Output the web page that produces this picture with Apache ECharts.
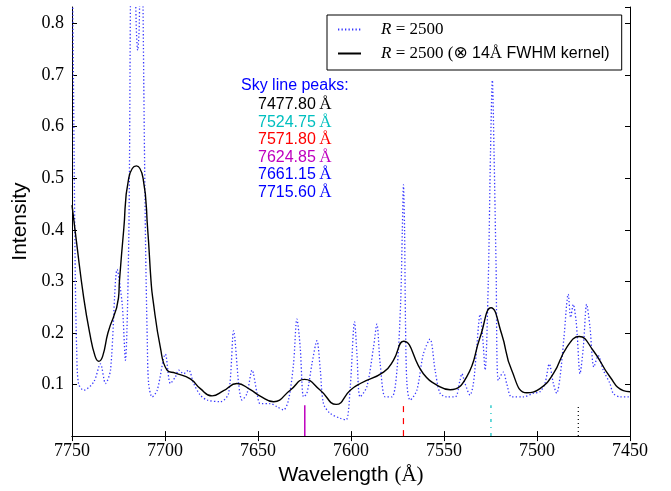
<!DOCTYPE html>
<html>
<head>
<meta charset="utf-8">
<script src="https://cdn.jsdelivr.net/npm/echarts@6/dist/echarts.min.js"></script>
<style>html,body{margin:0;padding:0;background:#fff}#c{width:671px;height:491px}</style>
</head>
<body>
<div id="c"></div>
<script>
// ---- data (wavelength in Å, intensity) ----
const xTicks = [7750, 7700, 7650, 7600, 7550, 7500, 7450];
const yTicks = [0.1, 0.2, 0.3, 0.4, 0.5, 0.6, 0.7, 0.8];

const highRes = [
  [7750,1.0],[7749.0,0.6],[7748.2,0.30],[7747.5,0.17],[7746.5,0.102],[7743.7,0.089],[7738.3,0.105],
  [7734.7,0.140],[7732.0,0.102],[7729.3,0.128],[7725.7,0.323],[7723.0,0.255],[7721.3,0.147],
  [7719.5,0.378],[7718.6,0.83],[7717.6,1.3],[7716.4,1.0],[7715.5,0.80],[7714.7,0.748],[7713.8,0.80],
  [7712.7,1.2],[7711.8,0.83],[7710.5,0.384],[7709.5,0.18],[7708.8,0.102],[7706.9,0.076],[7704.2,0.089],
  [7699.8,0.159],[7697.1,0.102],[7694.4,0.115],[7692.6,0.128],[7690.0,0.121],[7687.3,0.128],
  [7684.6,0.102],[7681.0,0.0795],[7677.4,0.070],[7670.2,0.0667],[7665.8,0.083],[7663.1,0.204],
  [7660.4,0.102],[7658.6,0.070],[7655.9,0.083],[7653.2,0.128],[7650.5,0.083],[7648.8,0.063],
  [7643.4,0.063],[7639.8,0.057],[7636.3,0.0507],[7633.6,0.070],[7630.9,0.140],[7629.1,0.227],
  [7627.3,0.172],[7625.5,0.076],[7623.7,0.083],[7621.0,0.140],[7618.3,0.185],[7616.5,0.128],
  [7614.8,0.063],[7611.2,0.044],[7605.8,0.0346],[7602.6,0.0315],[7600.4,0.0955],[7598.1,0.222],
  [7596.8,0.159],[7595.1,0.076],[7591.5,0.0955],[7587.9,0.172],[7586.1,0.217],[7584.3,0.140],
  [7581.6,0.076],[7578.0,0.076],[7575.3,0.128],[7573.3,0.26],[7572.4,0.40],[7571.8,0.487],
  [7571.2,0.40],[7570.7,0.22],[7569.9,0.10],[7568.2,0.070],[7564.6,0.089],[7561.1,0.159],
  [7557.5,0.188],[7554.8,0.128],[7552.1,0.083],[7548.5,0.076],[7544.0,0.076],[7541.4,0.108],
  [7540.4,0.121],[7538.7,0.102],[7536.0,0.0795],[7534.2,0.102],[7532.4,0.172],[7530.6,0.236],
  [7529.2,0.1915],[7527.9,0.128],[7526.2,0.30],[7525.0,0.55],[7524.0,0.69],[7523.1,0.55],
  [7522.0,0.33],[7520.8,0.108],[7518.1,0.124],[7516.3,0.102],[7513.6,0.076],[7507.4,0.076],
  [7502.0,0.083],[7498.4,0.086],[7495.7,0.102],[7493.4,0.140],[7491.2,0.102],[7489.4,0.083],
  [7487.6,0.115],[7485.5,0.1915],[7483.2,0.275],[7481.9,0.230],[7480.5,0.2555],[7479.0,0.2236],
  [7478.3,0.1915],[7476.9,0.121],[7475.1,0.172],[7473.3,0.2555],[7471.5,0.2107],[7469.4,0.134],
  [7467.1,0.156],[7464.4,0.128],[7460.8,0.102],[7459.0,0.083],[7455.4,0.076],[7450.9,0.076],[7450,0.076]
];

const convolved = [
  [7750,0.448],[7747.6,0.377],[7743.7,0.268],[7740.5,0.200],[7737.6,0.155],[7735.6,0.145],
  [7733.5,0.155],[7730.7,0.200],[7725.0,0.268],[7724.5,0.300],[7722.2,0.400],[7719.5,0.500],
  [7715.4,0.524],[7711.8,0.500],[7709.3,0.400],[7707.5,0.300],[7706.6,0.268],[7702.5,0.172],
  [7698.9,0.128],[7694.4,0.122],[7686.4,0.111],[7681.0,0.092],[7674.7,0.078],[7668.5,0.088],
  [7661.3,0.102],[7654.1,0.090],[7648.8,0.0776],[7641.6,0.0667],[7632.7,0.089],[7625.0,0.110],
  [7616.5,0.089],[7608.0,0.0615],[7600.4,0.089],[7595.0,0.102],[7582.5,0.124],[7577.2,0.147],
  [7571.8,0.184],[7561.1,0.121],[7552.1,0.0955],[7546.7,0.090],[7537.8,0.115],[7530.6,0.1915],
  [7524.7,0.249],[7519.0,0.198],[7513.6,0.1275],[7505.5,0.084],[7498.4,0.092],[7491.2,0.121],
  [7484.0,0.172],[7477.3,0.193],[7469.8,0.166],[7460.8,0.115],[7453.6,0.088],[7450,0.086]
];

const peakWavelengths = [7477.80, 7524.75, 7571.80, 7624.85, 7661.15, 7715.60];
const peakColors = ['#000000', '#00bfbf', '#ff0000', '#bf00bf', '#0000ff', '#0000ff'];
const markerTop = 0.06;
const markerStyles = [[1, 3], [3, 5, 1, 5], [6, 6], 'solid'];

// ---- chart ----
const chart = echarts.init(document.getElementById('c'), null, {renderer: 'canvas'});
const serif = '"Liberation Serif", "DejaVu Serif", serif';
const sans = '"Liberation Sans", Arial, sans-serif';

const markerSeries = [0, 1, 2, 3].map(i => ({
  type: 'line', name: 'm' + i, symbol: 'none', silent: true, legendHoverLink: false,
  data: [[peakWavelengths[i], 0], [peakWavelengths[i], markerTop]],
  lineStyle: {color: peakColors[i], width: i === 3 ? 1.5 : 1.2, type: markerStyles[i]},
  z: 1
}));

const graphics = [{
  type: 'text', x: 241, y: 86,
  style: {text: 'Sky line peaks:', fill: '#0000ff', font: '16px ' + sans, verticalAlign: 'middle'}
}];
peakWavelengths.forEach((w, i) => {
  graphics.push({
    type: 'text', x: 258, y: 105 + i * 17.5,
    style: {
      text: '{n|' + w.toFixed(2) + '} {a|Å}',
      fill: peakColors[i], verticalAlign: 'middle',
      rich: {
        n: {fontFamily: sans, fontSize: 16, fill: peakColors[i]},
        a: {fontFamily: serif, fontSize: 17, fill: peakColors[i]}
      }
    }
  });
});

const axisCommonX = {
  type: 'value', min: 7450, max: 7750, interval: 50, inverse: true,
  splitLine: {show: false},
  axisLine: {show: true, lineStyle: {color: '#000', width: 1}},
  axisTick: {show: true, inside: true, length: 5, lineStyle: {color: '#000'}}
};
const axisCommonY = {
  type: 'value', min: 0, max: 0.832, interval: 0.1,
  splitLine: {show: false},
  axisLine: {show: true, lineStyle: {color: '#000', width: 1}},
  axisTick: {show: true, inside: true, length: 5, lineStyle: {color: '#000'}}
};

chart.setOption({
  animation: false,
  backgroundColor: '#fff',
  grid: {left: 72, right: 41, top: 7, bottom: 51, containLabel: false},
  xAxis: [
    Object.assign({}, axisCommonX, {
      position: 'bottom',
      name: '{t|Wavelength }{s|(Å)}', nameLocation: 'middle', nameGap: 25,
      nameTextStyle: {rich: {t: {fontFamily: sans, fontSize: 21, color: '#000'}, s: {fontFamily: serif, fontSize: 21, color: '#000'}}},
      axisLabel: {
        margin: 6, color: '#000', fontFamily: serif, fontSize: 18,
        formatter: v => xTicks.indexOf(v) >= 0 ? String(v) : ''
      }
    }),
    Object.assign({}, axisCommonX, {position: 'top', axisLabel: {show: false}})
  ],
  yAxis: [
    Object.assign({}, axisCommonY, {
      position: 'left',
      name: 'Intensity', nameLocation: 'middle', nameGap: 38,
      nameTextStyle: {fontFamily: sans, fontSize: 21, color: '#000'},
      axisLabel: {
        margin: 8, color: '#000', fontFamily: serif, fontSize: 18, showMaxLabel: false,
        formatter: v => {
          const t = yTicks.find(y => Math.abs(y - v) < 1e-6);
          return t === undefined ? '' : t.toFixed(1);
        }
      }
    }),
    Object.assign({}, axisCommonY, {position: 'right', axisLabel: {show: false}})
  ],
  legend: {
    orient: 'vertical', left: 327, top: 15, padding: [6, 12, 8, 10],
    itemGap: 7, itemWidth: 23, itemHeight: 14,
    borderColor: '#000', borderWidth: 1, backgroundColor: '#fff', borderRadius: 0,
    data: ['s1', 's2'],
    itemStyle: {color: 'rgba(0,0,0,0)', borderColor: 'rgba(0,0,0,0)', borderWidth: 0, opacity: 0},
    selectedMode: false,
    formatter: n => n === 's1'
      ? '{sp|}{i|R}{s| = 2500}'
      : '{sp|}{i|R}{s| = 2500 (}{o|⊗}{ss| 14}{s|Å}{ss| FWHM kernel)}',
    textStyle: {
      color: '#000',
      rich: {
        sp: {width: 15},
        i: {fontFamily: serif, fontStyle: 'italic', fontSize: 17, color: '#000'},
        s: {fontFamily: serif, fontSize: 17, color: '#000'},
        o: {fontFamily: '"DejaVu Sans"', fontSize: 17, color: '#000'},
        ss: {fontFamily: sans, fontSize: 16, color: '#000'}
      }
    }
  },
  graphic: graphics,
  series: [
    {
      type: 'line', name: 's1', data: highRes, symbol: 'none', showSymbol: false, smooth: 0.3, clip: true,
      itemStyle: {color: '#3535ff'},
      lineStyle: {color: '#3535ff', width: 1.3, type: [1.3, 2.2]}, z: 2
    },
    {
      type: 'line', name: 's2', data: convolved, symbol: 'none', showSymbol: false, smooth: 0.5, clip: true,
      itemStyle: {color: '#000'},
      lineStyle: {color: '#000000', width: 1.4}, z: 3
    }
  ].concat(markerSeries)
});
</script>
</body>
</html>
